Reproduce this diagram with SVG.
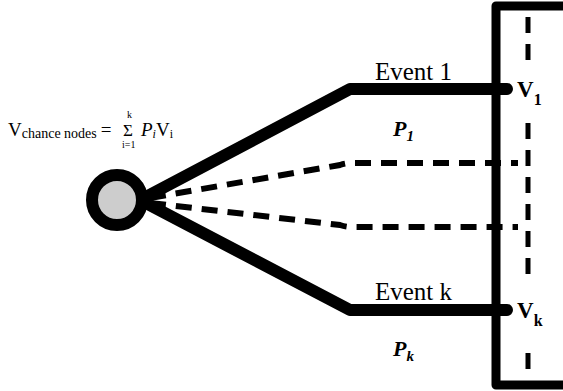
<svg xmlns="http://www.w3.org/2000/svg" width="563" height="391" viewBox="0 0 563 391">
<style>
.solid{fill:none;stroke:#000;stroke-width:12;stroke-linecap:round;stroke-linejoin:round}
.dash{fill:none;stroke:#000;stroke-width:6;stroke-dasharray:16 10}
.box{fill:none;stroke:#000;stroke-width:9;stroke-linejoin:round}
.vdash{fill:none;stroke:#000;stroke-width:5;stroke-dasharray:16 11}
text{font-family:"Liberation Serif","Times New Roman",serif;fill:#000}
.ev{font-size:25px}
.p{font-size:22px;font-weight:bold;font-style:italic}
.v{font-size:23px;font-weight:bold}
</style>
<rect width="563" height="391" fill="#fff"/>
<g id="outcome-box">
<path class="box" d="M570 6 H496 V385 H570"/>
<line class="vdash" x1="528" y1="17" x2="528" y2="62"/>
<line class="vdash" x1="528" y1="123" x2="528" y2="275"/>
<line class="vdash" x1="528" y1="353" x2="528" y2="370"/>
</g>
<g id="connectors">
<path class="dash" d="M150 198 L340 165 Q346 163 352 163 L518 163"/>
<path class="dash" d="M150 203 L340 225 Q346 227 352 227 L518 227"/>
<path class="solid" d="M140 200 L350 89 H507"/>
<path class="solid" d="M140 200 L350 310 H507"/>
</g>
<g id="chance-node">
<circle cx="117" cy="200" r="25" fill="#cdcdcd" stroke="#000" stroke-width="12"/>
</g>
<g id="event-1">
<text class="ev" x="375" y="80">Event 1</text>
<text class="p" x="393" y="136">P<tspan font-size="15" dy="5">1</tspan></text>
</g>
<g id="event-k">
<text class="ev" x="375" y="300">Event k</text>
<text class="p" x="393" y="356">P<tspan font-size="15" dy="5">k</tspan></text>
</g>
<g id="v1">
<text class="v" x="517" y="97">V<tspan font-size="16" dy="8">1</tspan></text>
</g>
<g id="vk">
<text class="v" x="517" y="318">V<tspan font-size="16" dy="8">k</tspan></text>
</g>
<g id="formula">
<text x="8" y="136" font-size="19">V<tspan font-size="14" dy="2">chance nodes</tspan><tspan dy="-2" dx="4">=</tspan></text>
<text x="123" y="136" font-size="17">Σ</text>
<text x="127" y="118" font-size="10">k</text>
<text x="122" y="148" font-size="10">i=1</text>
<text x="141" y="136" font-size="19"><tspan font-style="italic">P</tspan><tspan font-size="12" font-style="italic" dy="2">i</tspan><tspan dy="-2">V</tspan><tspan font-size="12" dy="2">i</tspan></text>
</g>
</svg>
